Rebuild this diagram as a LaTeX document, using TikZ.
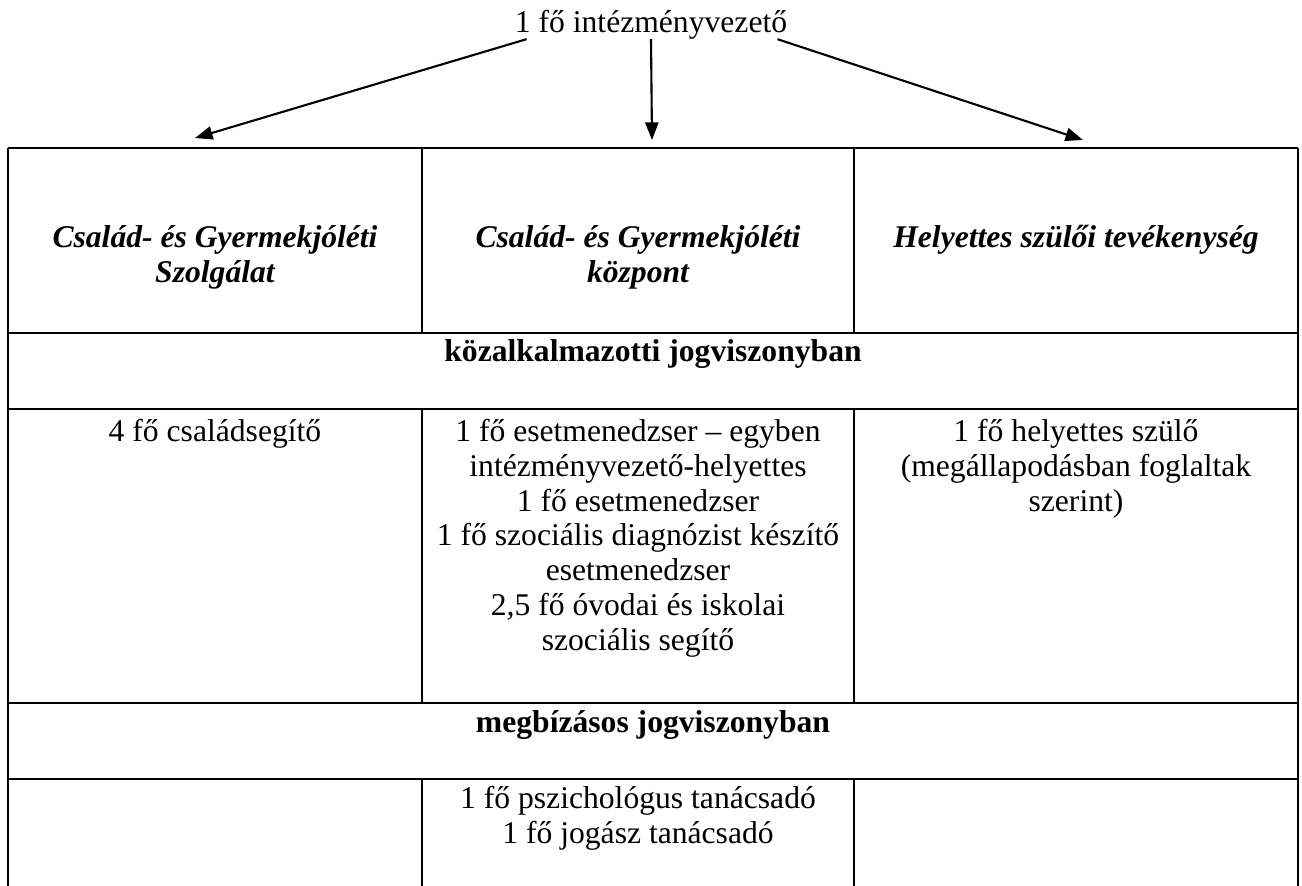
\documentclass[tikz,border=0pt]{standalone}
\usepackage{fontspec}
\setmainfont{Liberation Serif}
\usepackage{tikz}
\usetikzlibrary{calc, positioning, arrows.meta}

\tikzset{
    cella/.style={anchor=north, inner sep=0pt, align=center, font=\fontsize{18}{19.8}\selectfont},
    fejlec/.style={cella, font=\fontsize{18}{19.8}\selectfont\bfseries\itshape},
    sav/.style={cella, font=\fontsize{18}{19.8}\selectfont\bfseries},
    nyil/.style={line width=1.2pt, -{Triangle[length=10pt, width=7.5pt]}},
    racs/.style={line width=0.6pt}
}

\begin{document}
\begin{tikzpicture}[x=0.02cm, y=-0.02cm]
    \useasboundingbox (0,0) rectangle (1302,886);
    \node[inner sep=0pt, anchor=base, font=\fontsize{18}{19.8}\selectfont] (vezeto) at (651,32) {1 fő intézményvezető};
    \coordinate (szolg) at (195,138);
    \coordinate (kozp) at (652,140);
    \coordinate (helyett) at (1083,140);
    \draw[nyil] ($(vezeto.south west)+(12,0)$) -- (szolg);
    \draw[nyil] (vezeto.south) -- (kozp);
    \draw[nyil] ($(vezeto.south east)+(-10,0)$) -- (helyett);

    \draw[racs] (8,148) -- (8,886);
    \draw[racs] (1298,148) -- (1298,886);
    \foreach \y in {148,333,409,703,779}
        \draw[racs] (8,\y) -- (1298,\y);
    \foreach \x in {422,854} {
        \draw[racs] (\x,148) -- (\x,333);
        \draw[racs] (\x,409) -- (\x,703);
        \draw[racs] (\x,779) -- (\x,886);
    }

    \node[fejlec] (szolgfej) at (215,225) {Család- és Gyermekjóléti\\Szolgálat};
    \node[fejlec] (kozpfej) at (638,225) {Család- és Gyermekjóléti\\központ};
    \node[fejlec] (helyfej) at (1076,225) {Helyettes szülői tevékenység};
    \node[sav] (kozalk) at (653,339) {közalkalmazotti jogviszonyban};
    \node[cella] (csaladseg) at (215,419) {4 fő családsegítő};
    \node[cella] (esetmen) at (638,419) {1 fő esetmenedzser – egyben\\intézményvezető-helyettes\\1 fő esetmenedzser\\1 fő szociális diagnózist készítő\\esetmenedzser\\2,5 fő óvodai és iskolai\\szociális segítő};
    \node[cella] (helyszulo) at (1076,419) {1 fő helyettes szülő\\(megállapodásban foglaltak\\szerint)};
    \node[sav] (megbiz) at (653,710) {megbízásos jogviszonyban};
    \node[cella] (tanacs) at (638,786) {1 fő pszichológus tanácsadó\\1 fő jogász tanácsadó};
\end{tikzpicture}
\end{document}
